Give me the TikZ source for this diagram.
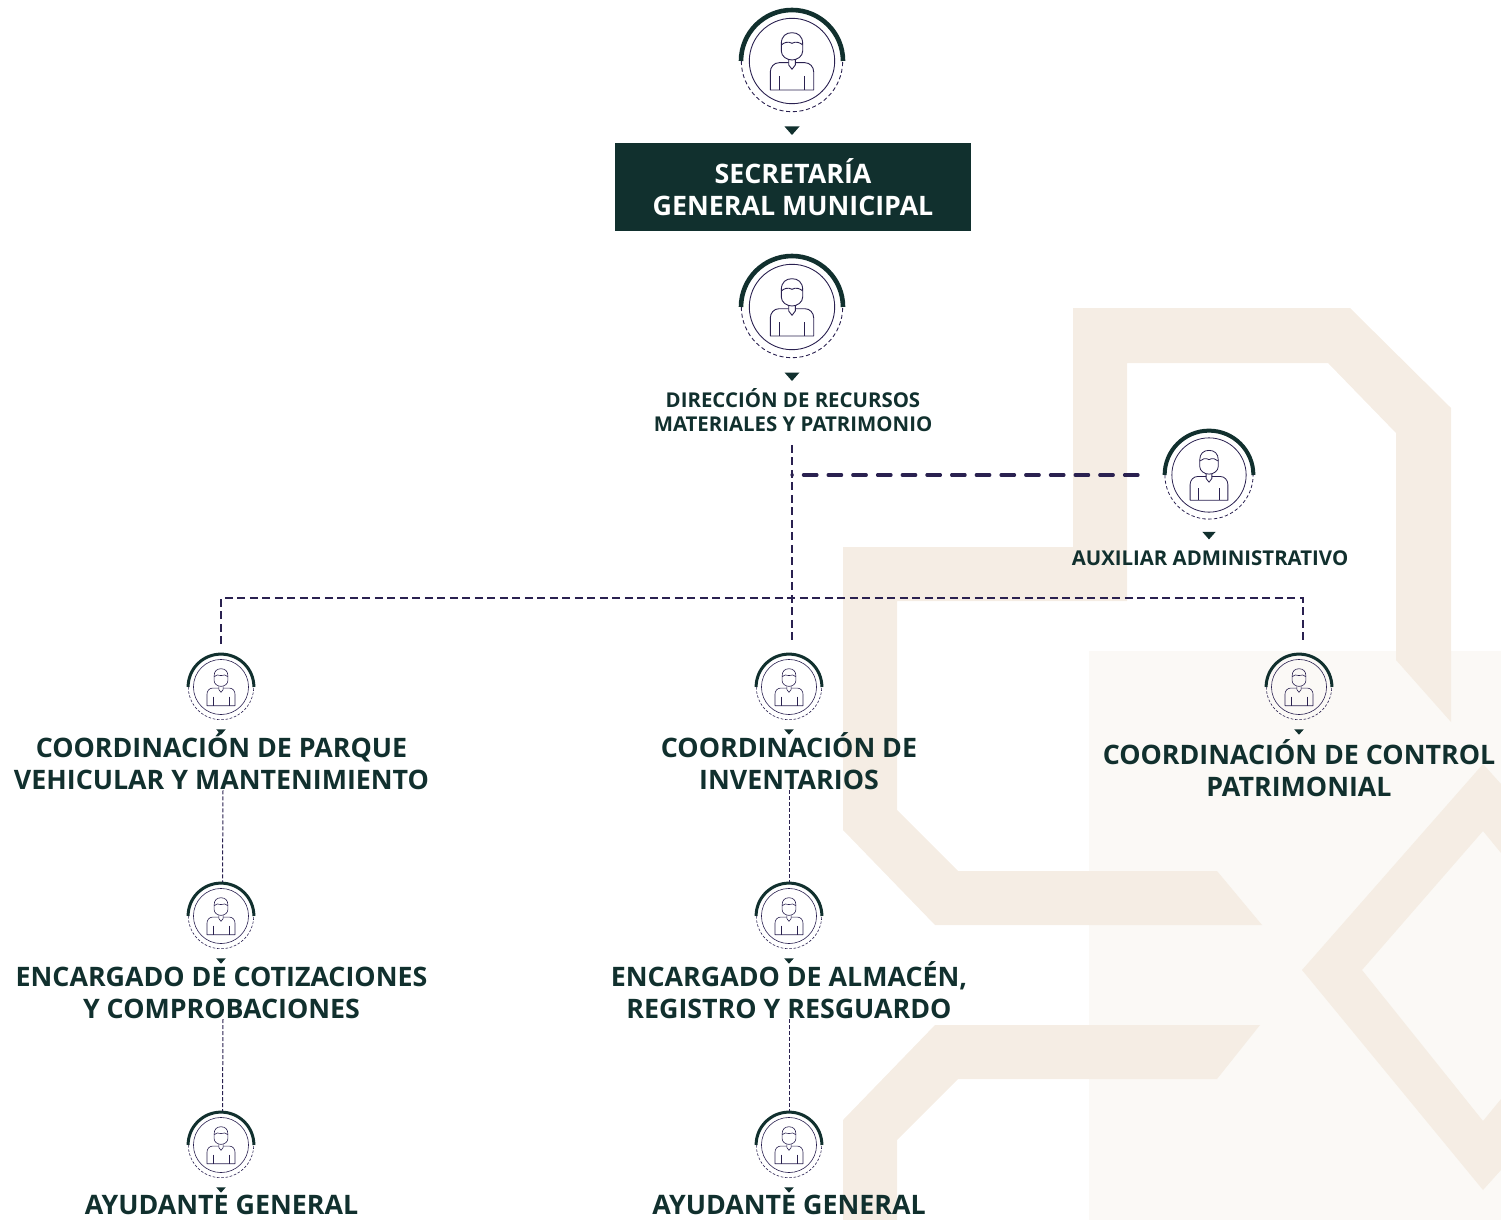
\documentclass[tikz,border=0pt]{standalone}
\usepackage{fontspec}
\setmainfont{Open Sans}
\usepackage{tikz}
\definecolor{deepgreen}{HTML}{11302E}
\definecolor{inkline}{HTML}{2A2150}
\definecolor{beige}{HTML}{F5EDE4}
\definecolor{panel}{HTML}{FBF9F6}
\tikzset{
  arcwidth/.store in=\arcwidth,
  arcwidth=4.5pt,
  ringdash/.style={dash pattern=on 4pt off 2.7pt},
  person/.pic={
    \coordinate (-top) at (0,-53);
    \coordinate (-up) at (0,-66.3);
    \coordinate (-left) at (-81.6,0);
    \draw[deepgreen,line width=\arcwidth] (-51,0) arc (180:360:51);
    \draw[inkline,ringdash] (-50.7,0) arc (180:0:50.7);
    \draw[inkline] (0,0) circle (42.7);
    \draw[inkline,line join=round] (-10.7,-17) .. controls (-10.7,-25) and (-6,-28.3) .. (0,-28.3) .. controls (6,-28.3) and (10.7,-25) .. (10.7,-17) -- (10.7,-10) .. controls (10.7,-4.5) and (5,-1) .. (0,-1) .. controls (-5,-1) and (-10.7,-4.5) .. (-10.7,-10) -- cycle;
    \draw[inkline] (-10.7,-16) .. controls (-8,-18.5) and (-4,-20) .. (0,-17.7) .. controls (4,-20) and (8,-18.5) .. (10.7,-16);
    \draw[inkline,line join=round] (-3.3,-1) -- (-3.3,4) -- (0,8.3) -- (3.3,4) -- (3.3,-1);
    \draw[inkline,line join=round] (-3.3,1.7) -- (-13,1.7) .. controls (-18,1.7) and (-21.7,6) .. (-21.7,11) -- (-21.7,29) -- (21.7,29) -- (21.7,11) .. controls (21.7,6) and (18,1.7) .. (13,1.7) -- (3.3,1.7);
    \draw[inkline] (-12.3,15) -- (-12.3,29);
    \draw[inkline] (12.3,15) -- (12.3,29);
    \fill[deepgreen] (-7.5,65.5) -- (7.5,65.5) -- (0,74) -- cycle;
  },
  bigicon/.style={scale=1,line width=.9pt,arcwidth=4.6pt},
  midicon/.style={scale=.87,line width=.8pt,arcwidth=4pt,ringdash/.style={dash pattern=on 3.4pt off 2.3pt}},
  smallicon/.style={scale=.645,line width=.6pt,arcwidth=3pt,ringdash/.style={dash pattern=on 2.6pt off 1.7pt}},
  bigtext/.style={text=deepgreen,align=center,inner sep=0pt,font=\fontsize{26.8}{32}\selectfont\bfseries},
  midtext/.style={text=deepgreen,align=center,inner sep=0pt,font=\fontsize{20.4}{24}\selectfont\bfseries},
  headbox/.style={fill=deepgreen,text=white,align=center,minimum width=356pt,minimum height=88pt,inner sep=0pt,font=\fontsize{26.8}{32}\selectfont\bfseries},
  linkwide/.style={inkline,line width=3.2pt,line cap=round,dash pattern=on 13.5pt off 11.2pt},
  linkmain/.style={inkline,line width=2pt,dash pattern=on 8pt off 4.5pt},
  linkthin/.style={inkline,line width=1pt,dash pattern=on 4pt off 2pt}
}
\begin{document}
\begin{tikzpicture}[x=1pt,y=-1pt]
\useasboundingbox (0,0) rectangle (1501,1220);
% background
\fill[panel] (1089,651) rectangle (1501,1220);
\fill[beige] (843,547) -- (1073,547) -- (1073,308) -- (1350,308) -- (1451,408) -- (1451,722) -- (1396,660) -- (1396,433) -- (1328,363) -- (1127,363) -- (1127,601) -- (897,601) -- (897,810) -- (958,871) -- (1217,871) -- (1262,925) -- (935,925) -- (843,830) -- cycle;
\fill[beige] (843,1120) -- (935,1025) -- (1260,1025) -- (1217,1079) -- (958,1079) -- (897,1140) -- (897,1220) -- (843,1220) -- cycle;
\fill[beige] (1302,970) -- (1483,764) -- (1501,784) -- (1501,853) -- (1483,831) -- (1362,970) -- (1483,1121) -- (1501,1099) -- (1501,1170) -- (1483,1190) -- cycle;
% people
\pic[bigicon] (top) at (792,61) {person};
\pic[bigicon] (dir) at (792,307) {person};
\pic[midicon] (aux) at (1209,475) {person};
\pic[smallicon] (par) at (221,687) {person};
\pic[smallicon] (inv) at (789,687) {person};
\pic[smallicon] (ctl) at (1299,687) {person};
\pic[smallicon] (cot) at (221,916) {person};
\pic[smallicon] (alm) at (789,916) {person};
\pic[smallicon] (ayua) at (221,1145) {person};
\pic[smallicon] (ayub) at (789,1145) {person};
% labels
\node[headbox] (tsec) at (793,187) {SECRETARÍA\\GENERAL MUNICIPAL};
\node[midtext] (tdir) at (793,410) {DIRECCIÓN DE RECURSOS\\MATERIALES Y PATRIMONIO};
\node[midtext] (taux) at (1210,558) {AUXILIAR ADMINISTRATIVO};
\node[bigtext] (tpar) at (221.5,761.5) {COORDINACIÓN DE PARQUE\\VEHICULAR Y MANTENIMIENTO};
\node[bigtext] (tinv) at (789,761.5) {COORDINACIÓN DE\\INVENTARIOS};
\node[bigtext] (tctl) at (1299,768.5) {COORDINACIÓN DE CONTROL\\PATRIMONIAL};
\node[bigtext] (tcot) at (221.5,993) {ENCARGADO DE COTIZACIONES\\Y COMPROBACIONES};
\node[bigtext] (talm) at (789,990) {ENCARGADO DE ALMACÉN,\\REGISTRO Y RESGUARDO};
\node[bigtext] (tayua) at (221.5,1205) {AYUDANTE GENERAL};
\node[bigtext] (tayub) at (789,1205) {AYUDANTE GENERAL};
% links
\coordinate (hub) at (792,475);
\coordinate (rail) at (792,598);
\draw[linkmain] ([xshift=-1pt,yshift=-13pt]tdir.south) -- ([xshift=3pt]inv-up);
\draw[linkwide] (aux-left) -- (hub);
\draw[linkmain] (par-up) |- (rail) -| ([xshift=4pt]ctl-up);
\draw[linkthin] ([xshift=1.5pt]tpar.south) -- ([xshift=1.5pt]cot-top);
\draw[linkthin] ([xshift=1.5pt]tcot.south) -- ([xshift=1.5pt]ayua-top);
\draw[linkthin] (tinv.south) -- (alm-top);
\draw[linkthin] (talm.south) -- (ayub-top);
\end{tikzpicture}
\end{document}
